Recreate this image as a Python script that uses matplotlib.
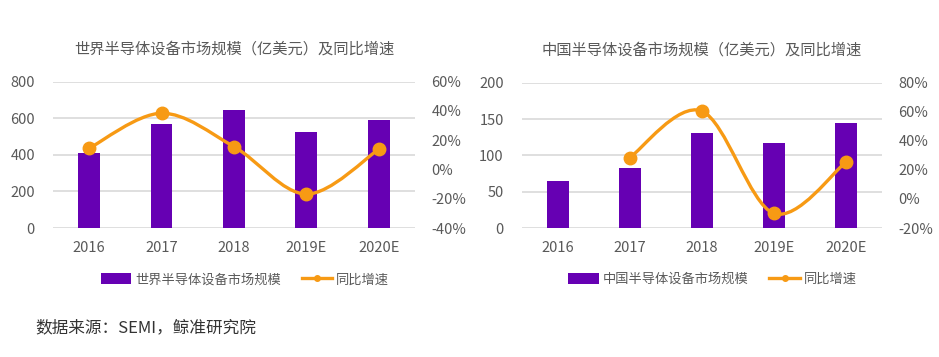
import matplotlib
matplotlib.use('Agg')
from matplotlib import pyplot as plt
from matplotlib.path import Path
from matplotlib.patches import PathPatch, Patch
from matplotlib.lines import Line2D
from matplotlib.ticker import FuncFormatter
import numpy as np

plt.rcParams['font.family'] = ['Noto Sans CJK SC', 'DejaVu Sans']

years = ['2016', '2017', '2018', '2019E', '2020E']

world_size = [412, 566, 645, 527, 589]
world_growth = [14.5, 38.4, 15.6, -16.8, 13.8]

china_size = [65, 82, 131, 117, 144]
china_growth = [np.nan, 28.4, 60.5, -9.9, 25.2]

world_title = '世界半导体设备市场规模（亿美元）及同比增速'
china_title = '中国半导体设备市场规模（亿美元）及同比增速'
world_label = '世界半导体设备市场规模'
china_label = '中国半导体设备市场规模'
growth_label = '同比增速'
source_text = '数据来源：SEMI，鲸准研究院'

PURPLE = '#6600B3'
ORANGE = '#F79A14'
GRID = '#D9D9D9'
TEXT = '#595959'


def smooth_path(xs, ys):
    # catmull-rom style bezier, like excel's smoothed line
    pts = [(x, y) for x, y in zip(xs, ys) if not np.isnan(y)]
    pts = np.array(pts, dtype=float)
    verts = [pts[0]]
    codes = [Path.MOVETO]
    n = len(pts)
    for i in range(n - 1):
        p0 = pts[i - 1] if i > 0 else pts[i]
        p1 = pts[i]
        p2 = pts[i + 1]
        p3 = pts[i + 2] if i + 2 < n else pts[i + 1]
        c1 = p1 + (p2 - p0) / 6
        c2 = p2 - (p3 - p1) / 6
        verts += [c1, c2, p2]
        codes += [Path.CURVE4] * 3
    return Path(verts, codes)


def draw_panel(fig, rect, sizes, growth, ymax, ystep, gmin, gmax, title, bar_label):
    ax = fig.add_axes(rect)
    x = np.arange(len(years))
    ax.bar(x, sizes, width=0.3, color=PURPLE, zorder=2)
    ax.set_xlim(-0.5, len(years) - 0.5)
    ax.set_ylim(0, ymax)
    ax.set_yticks(np.arange(0, ymax + 1, ystep))
    ax.set_xticks(x)
    ax.set_xticklabels(years)
    ax.grid(axis='y', color=GRID, linewidth=1.2, zorder=0)
    for s in ax.spines.values():
        s.set_visible(False)
    ax.tick_params(length=0, labelsize=10.5, colors=TEXT)
    ax.tick_params(axis='y', pad=13)
    ax.tick_params(axis='x', pad=9)

    ax2 = ax.twinx()
    ax2.set_ylim(gmin, gmax)
    ax2.set_yticks(np.arange(gmin, gmax + 1, 20))
    ax2.yaxis.set_major_formatter(FuncFormatter(lambda v, p: '{:.0f}%'.format(v)))
    for s in ax2.spines.values():
        s.set_visible(False)
    ax2.tick_params(length=0, labelsize=10.5, colors=TEXT, pad=12)
    ax2.add_patch(PathPatch(smooth_path(x, growth), facecolor='none',
                            edgecolor=ORANGE, linewidth=2.4, zorder=3))
    ax2.plot(x, growth, 'o', color=ORANGE, markersize=9, zorder=4)

    ax.set_title(title, fontsize=11, color=TEXT, pad=20)

    handles = [Patch(facecolor=PURPLE, label=bar_label),
               Line2D([], [], color=ORANGE, linewidth=2.4, marker='o', markersize=4,
                      label=growth_label)]
    ax.legend(handles=handles, loc='center', bbox_to_anchor=(0.53, -0.355), ncol=2,
              frameon=False, fontsize=9.5, labelcolor=TEXT, handlelength=2.3,
              handleheight=0.9, handletextpad=0.3, columnspacing=1.6)
    return ax


fig = plt.figure(figsize=(9.39, 3.57), dpi=100)

draw_panel(fig, [0.0564, 0.3613, 0.3855, 0.41], world_size, world_growth,
           800, 200, -40, 60, world_title, world_label)
draw_panel(fig, [0.5556, 0.3613, 0.3834, 0.407], china_size, china_growth,
           200, 50, -20, 80, china_title, china_label)

fig.text(35 / 939, 1 - 328 / 357, source_text, fontsize=12, color='#333333', va='center')

fig.savefig('out.png', dpi=100, facecolor='white')
